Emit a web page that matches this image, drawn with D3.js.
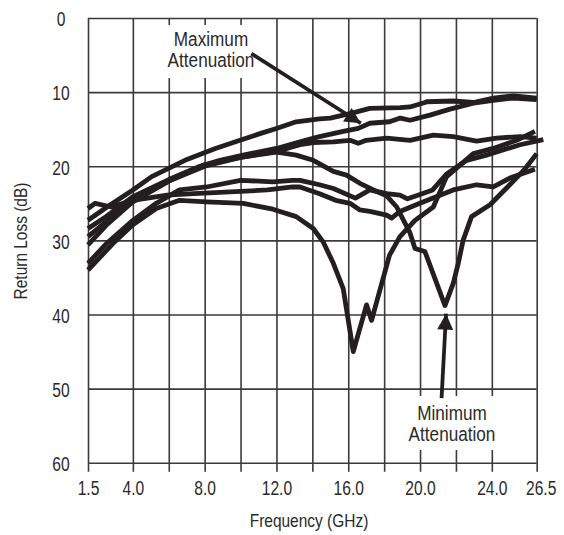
<!DOCTYPE html>
<html>
<head>
<meta charset="utf-8">
<script src="https://cdn.jsdelivr.net/npm/d3@7"></script>
<style>
  html, body { margin: 0; padding: 0; background: #fff; }
  svg { display: block; }
  text { font-family: 'Liberation Sans', Arial, sans-serif; fill: #2a2a2a; }
</style>
</head>
<body>
<svg id="chart" width="564" height="535"></svg>
<script>
// ---- data (frequency GHz, return loss dB) ----
const xGrid = [1.5, 4, 6, 8, 10, 12, 14, 16, 18, 20, 22, 24, 26.5];
const xLabels = {1.5: "1.5", 4: "4.0", 8: "8.0", 12: "12.0", 16: "16.0", 20: "20.0", 24: "24.0", 26.5: "26.5"};
const yTicks = [0, 10, 20, 30, 40, 50, 60];

const curveA = [[1.5,27.3],[2.5,25.6],[4,23.2],[5.05,21.4],[6.9,19.2],[8.6,17.6],[9.97,16.5],[11.08,15.6],[12.0,14.9],[13.1,14.0],[14.4,13.6],[15.0,13.5],[15.72,13.1],[16.1,12.9],[17.2,12.2],[18.9,12.1],[19.44,12.0],[20.27,11.4],[20.37,11.3],[21.85,11.2],[22.97,11.4],[24.08,10.8],[25.2,10.5],[26.5,10.8]];
const curveB = [[1.5,28.4],[2.5,26.8],[4,24.1],[6,21.8],[7.74,20.0],[8.85,19.2],[10.15,18.5],[12.0,17.6],[13.31,16.7],[14.4,16.0],[15.72,15.3],[16.56,14.9],[17.2,14.2],[18.3,14.0],[18.9,13.5],[19.44,13.8],[20.55,13.1],[21.67,12.3],[22.97,11.5],[24.08,11.1],[25.2,10.8],[26.5,11.0]];
const curveC = [[1.5,29.5],[2.5,27.5],[4,24.5],[6,22.0],[8,20.0],[10,18.8],[12,18.0],[13.31,17.1],[14.05,16.8],[15.17,16.7],[16.1,16.5],[16.56,16.9],[17,16.5],[18.14,16.2],[19.44,16.5],[20.74,15.8],[21.85,16.0],[23.15,16.6],[24.27,16.2],[25.57,16.0],[26.5,16.2]];
const curveD = [[1.5,30.6],[2.5,28.0],[4,24.8],[6,22.0],[8,19.8],[10,18.8],[12,18.1],[13.1,18.5],[14.05,19.2],[15.17,20.7],[15.9,21.2],[16.65,22.3],[17.4,23.2],[18.14,24.0],[18.7,25.5],[19.44,29.0],[19.72,31.1],[20.27,31.5],[21.39,38.8],[21.85,35.8],[22.13,33.1],[22.4,30.0],[22.87,26.8],[23.9,25.2],[25.0,22.5],[25.8,20.5],[26.5,18.3]];
const curveE = [[1.5,33.1],[2.5,30.5],[4,27.3],[5.3,25.0],[6.6,23.2],[8.1,22.8],[10,21.9],[11.8,22.1],[12.9,21.9],[13.31,21.9],[14.4,22.5],[15.17,23.0],[16.4,24.3],[17.2,23.2],[18.14,23.7],[18.88,23.9],[19.3,24.4],[20.0,23.8],[20.7,23.2],[21.5,21.0],[22.6,19.2],[23.7,18.5],[25.57,17.1],[26.87,16.4]];
const curveF = [[1.5,25.7],[1.9,25.0],[2.8,25.5],[4,24.6],[5.9,23.9],[7.4,23.7],[10,23.4],[11.5,23.2],[12.9,22.8],[13.31,22.8],[14.4,23.7],[15.3,24.6],[16.1,25.0],[16.65,25.9],[17.2,26.1],[18.14,26.6],[18.42,27.0],[18.88,26.1],[19.99,25.0],[21.85,23.2],[23.15,22.5],[24.08,22.8],[25.0,21.6],[26.4,20.4]];
const curveG = [[1.5,34.0],[2.9,30.4],[4,27.9],[5.3,25.7],[6.6,24.6],[8.1,24.8],[10.15,25.0],[11.8,25.8],[13.1,26.8],[14.05,28.4],[14.6,30.2],[15.17,33.1],[15.72,36.5],[16.28,45.0],[17.02,38.7],[17.3,40.8],[18.3,32.0],[18.88,29.5],[19.72,27.3],[20.74,25.5],[21.48,21.4],[22.97,18.3],[24.08,17.6],[25.38,16.5],[26.4,15.3]];
const curves = [curveA, curveB, curveC, curveD, curveE, curveF, curveG];

// annotations
const maxLabel = ["Maximum", "Attenuation"];
const maxArrow = [[10.6, 4.8], [16.7, 14.2]];
const minLabel = ["Minimum", "Attenuation"];
const minArrow = [[21.2, 51.3], [21.45, 39.9]];

// ---- layout ----
const svg = d3.select("#chart");
const x = d3.scaleLinear().domain([1.5, 26.5]).range([88, 536.7]);
const y = d3.scaleLinear().domain([0, 60]).range([18, 462.7]);
const ink = "#231f20";
const gridCol = "#3a3a3a";
const sx = 0.8; // horizontal condensing of text

// vertical grid + bottom ticks
const gx = svg.append("g").attr("transform", `translate(0,${y(60)})`)
  .call(d3.axisBottom(x).tickValues(xGrid).tickSize(9).tickPadding(9)
    .tickFormat(d => xLabels[d] || ""));
gx.select(".domain").remove();
gx.selectAll(".tick line").attr("stroke", gridCol).attr("stroke-width", 1.6).attr("y1", -(y(60) - y(0)));
gx.selectAll(".tick text").attr("font-size", 19.5).attr("fill", "#2a2a2a")
  .attr("x", d => (d === 26.5 ? 4 : 0) / sx)
  .attr("transform", `scale(${sx},1)`);

// horizontal grid + left ticks
const gy = svg.append("g").attr("transform", `translate(${x(1.5)},0)`)
  .call(d3.axisLeft(y).tickValues(yTicks).tickSize(8).tickPadding(19).tickFormat(d3.format("d")));
gy.select(".domain").remove();
gy.selectAll(".tick line").attr("stroke", gridCol).attr("stroke-width", 1.6).attr("x2", x(26.5) - x(1.5));
gy.selectAll(".tick text").attr("font-size", 19.5).attr("text-anchor", "middle")
  .attr("x", -27 / sx).attr("dy", "0.4em").attr("fill", "#2a2a2a")
  .attr("transform", `scale(${sx},1)`);

// white boxes behind annotation labels
svg.append("rect").attr("x", 163).attr("y", 25).attr("width", 96).attr("height", 53).attr("fill", "#fff");
svg.append("rect").attr("x", 398).attr("y", 396).attr("width", 106).attr("height", 54).attr("fill", "#fff");

// curves
const line = d3.line().x(d => x(d[0])).y(d => y(d[1]));
svg.append("g").selectAll("path").data(curves).join("path")
  .attr("d", line).attr("fill", "none").attr("stroke", ink)
  .attr("stroke-width", 4.8).attr("stroke-linejoin", "round").attr("stroke-linecap", "butt");

// arrows
svg.append("defs").append("marker").attr("id", "ah")
  .attr("viewBox", "0 0 10 10").attr("refX", 10).attr("refY", 5)
  .attr("markerWidth", 5.2).attr("markerHeight", 4.2).attr("markerUnits", "strokeWidth").attr("orient", "auto")
  .append("path").attr("d", "M0,0 L10,5 L0,10 Z").attr("fill", ink);
[maxArrow, minArrow].forEach(a => {
  svg.append("line")
    .attr("x1", x(a[0][0])).attr("y1", y(a[0][1]))
    .attr("x2", x(a[1][0])).attr("y2", y(a[1][1]))
    .attr("stroke", ink).attr("stroke-width", 3.8).attr("marker-end", "url(#ah)");
});

// annotation labels
function label(lines, cx, yb, s) {
  const t = svg.append("text").attr("text-anchor", "middle").attr("font-size", 19.5)
    .attr("transform", `translate(${cx},0) scale(${s},1)`);
  lines.forEach((str, i) => t.append("tspan").attr("x", 0).attr("y", yb + i * 21).text(str));
}
label(maxLabel, 211, 46.5, 0.88);
label(minLabel, 452, 420.5, 0.88);

// axis titles
svg.append("text").attr("transform", `translate(309,527) scale(0.86,1)`).attr("text-anchor", "middle")
  .attr("font-size", 18).text("Frequency (GHz)");
svg.append("text").attr("transform", `translate(27,241) rotate(-90) scale(0.86,1)`).attr("text-anchor", "middle")
  .attr("font-size", 18).text("Return Loss (dB)");
</script>
</body>
</html>
